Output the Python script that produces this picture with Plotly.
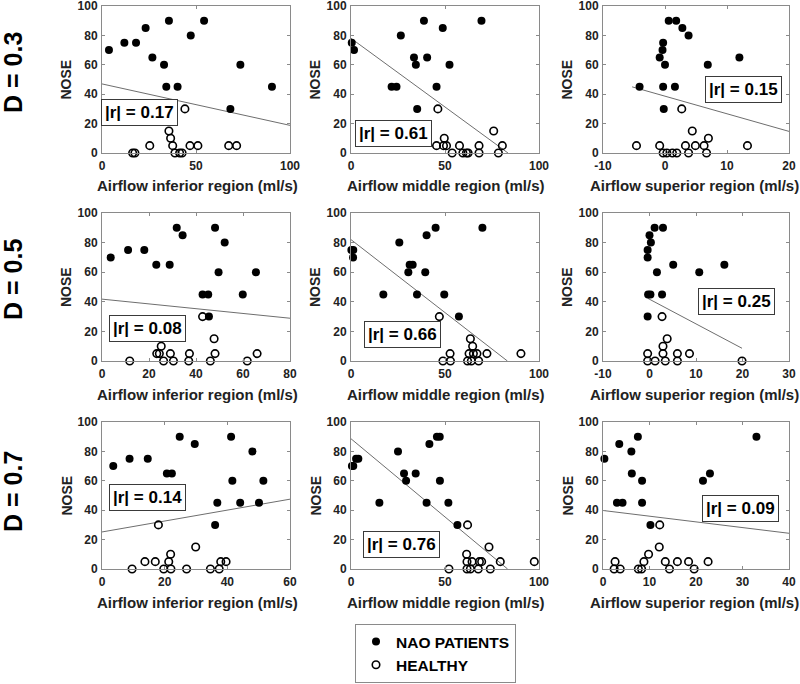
import plotly.graph_objects as go

# ---------------- data ----------------
d_labels = ["D = 0.3", "D = 0.5", "D = 0.7"]
region_titles = ["Airflow inferior region (ml/s)", "Airflow middle region (ml/s)", "Airflow superior region (ml/s)"]
r_values = ["0.17", "0.61", "0.15", "0.08", "0.66", "0.25", "0.14", "0.76", "0.09"]

# D = 0.3
d03_inf_nao_x = [3.7, 11.9, 18.1, 23.2, 26.8, 33, 35.6, 34.2, 40.2, 47.2, 54.3, 68.3, 73.6, 90.4]
d03_inf_nao_y = [70, 75, 75, 85, 65, 60, 90, 45, 45, 80, 90, 30, 60, 45]
d03_inf_hea_x = [44.1, 35.6, 36.5, 37.6, 38.8, 41.3, 42.6, 16.3, 17.5, 25.4, 46.8, 51, 67.4, 71.6]
d03_inf_hea_y = [30, 15, 10, 5, 0, 0, 0, 0, 0, 5, 5, 5, 5, 5]
d03_inf_fit_x = [0, 100]
d03_inf_fit_y = [47, 18.8]

d03_mid_nao_x = [0.4, 1.6, 21.6, 24.2, 26.5, 33.5, 34.5, 35.2, 38.8, 40.5, 45.5, 48.8, 52.4, 69.4]
d03_mid_nao_y = [75, 70, 45, 45, 80, 65, 60, 30, 90, 65, 45, 85, 60, 90]
d03_mid_hea_x = [46.2, 45.5, 49.2, 49.6, 50.8, 53.8, 57.7, 59.5, 61.4, 62.3, 68.1, 68.1, 75.9, 78.4, 80.5]
d03_mid_hea_y = [30, 5, 5, 10, 5, 0, 5, 0, 0, 0, 5, 0, 15, 0, 5]
d03_mid_fit_x = [0, 83.5]
d03_mid_fit_y = [78, 0]

d03_sup_nao_x = [-4.1, -0.86, -0.3, -0.4, 0, -0.3, -0.2, 0.6, 1.8, 2.8, 3.8, 1.6, 6.9, 12]
d03_sup_nao_y = [45, 65, 75, 70, 60, 45, 30, 90, 90, 85, 80, 45, 60, 65]
d03_sup_hea_x = [-4.6, -0.86, -0.3, 0.3, 1.2, 1.9, 2.7, 3.3, 3.8, 4.4, 4.9, 6.3, 6.7, 7.0, 13.3]
d03_sup_hea_y = [5, 5, 0, 0, 0, 0, 30, 5, 0, 15, 5, 5, 0, 10, 5]
d03_sup_fit_x = [-5.3, 20]
d03_sup_fit_y = [45, 14.7]

# D = 0.5
d05_inf_nao_x = [3.7, 11.1, 18, 23.1, 28.8, 31.8, 34.3, 42.8, 45.2, 45.5, 48.1, 49.6, 52.2, 59.9, 65.5]
d05_inf_nao_y = [70, 75, 75, 65, 65, 90, 85, 45, 45, 30, 90, 60, 80, 45, 60]
d05_inf_hea_x = [11.8, 23.3, 24.4, 25.2, 26.2, 29.1, 30.4, 36.9, 37.2, 42.8, 46.1, 47.7, 48.1, 61.8, 66]
d05_inf_hea_y = [0, 5, 5, 10, 0, 5, 0, 0, 5, 30, 0, 15, 5, 0, 5]
d05_inf_fit_x = [0, 80]
d05_inf_fit_y = [41.8, 28.9]

d05_mid_nao_x = [0.2, 1.2, 1.1, 17.2, 25.7, 30.5, 31.2, 32.8, 35.1, 39.5, 40.2, 45, 49.6, 57.4, 69.9]
d05_mid_nao_y = [75, 75, 70, 45, 80, 60, 65, 65, 45, 60, 85, 90, 45, 30, 90]
d05_mid_hea_x = [47, 48.9, 52.7, 52.9, 62, 62.8, 63.5, 64, 64.7, 65.1, 67, 67.9, 72.3, 90.4]
d05_mid_hea_y = [30, 0, 5, 0, 0, 5, 15, 0, 10, 5, 5, 0, 5, 5]
d05_mid_fit_x = [0, 83.2]
d05_mid_fit_y = [82, 0]

d05_sup_nao_x = [-0.4, -0.4, 0, 0.3, -0.3, 0.2, -0.4, 1.1, 2.9, 1.6, 2.7, 5.1, 10.7, 16.1]
d05_sup_nao_y = [75, 70, 85, 80, 45, 45, 30, 90, 90, 60, 45, 65, 60, 65]
d05_sup_hea_x = [-0.4, -0.4, 1.2, 2.7, 2.9, 2.9, 3.4, 3.8, 6, 6, 8.6, 19.9]
d05_sup_hea_y = [5, 0, 0, 30, 10, 5, 0, 15, 5, 0, 5, 0]
d05_sup_fit_x = [-0.4, 19.9]
d05_sup_fit_y = [42.4, 8.6]

# D = 0.7
d07_inf_nao_x = [3.6, 8.8, 14.6, 20.7, 22.3, 24.8, 29.6, 36.1, 36.8, 41.2, 41.6, 44.1, 48, 50.1, 51.5]
d07_inf_nao_y = [70, 75, 75, 65, 65, 90, 85, 30, 45, 90, 60, 45, 80, 45, 60]
d07_inf_hea_x = [9.6, 13.7, 17, 18, 19.7, 21.3, 21.9, 22, 27, 29.9, 34.6, 37.4, 37.9, 39.6]
d07_inf_hea_y = [0, 5, 5, 30, 0, 5, 10, 0, 0, 15, 0, 0, 5, 5]
d07_inf_fit_x = [0, 60]
d07_inf_fit_y = [25.2, 47.5]

d07_mid_nao_x = [0.5, 1.2, 2.7, 3.9, 15.1, 25, 28.2, 29.3, 34.4, 40.2, 41.7, 45.7, 47.2, 47.3, 51.8, 56.6]
d07_mid_nao_y = [70, 70, 75, 75, 45, 80, 65, 60, 65, 45, 85, 90, 90, 60, 45, 30]
d07_mid_hea_x = [52.1, 62, 61.5, 61.7, 61.7, 63.5, 64.4, 67.7, 68.3, 69.5, 73.4, 74.1, 79.4, 97.5]
d07_mid_hea_y = [0, 30, 10, 5, 0, 0, 5, 0, 5, 5, 15, 0, 5, 5]
d07_mid_fit_x = [0, 83.3]
d07_mid_fit_y = [88.6, 0]

d07_sup_nao_x = [-0.1, 0.3, 3, 3.5, 4.2, 6.1, 6.2, 7.5, 8.4, 8.4, 10.2, 21.5, 23, 33]
d07_sup_nao_y = [70, 75, 45, 85, 45, 80, 65, 90, 60, 45, 30, 60, 65, 90]
d07_sup_hea_x = [2.6, 2.4, 3.7, 7.6, 8.3, 8.8, 9.8, 12.2, 12.1, 13.4, 14.3, 16, 18.4, 19.6, 22.6]
d07_sup_hea_y = [5, 0, 0, 0, 0, 5, 10, 30, 15, 5, 0, 5, 5, 0, 5]
d07_sup_fit_x = [0, 40]
d07_sup_fit_y = [39.8, 24.3]

x_ranges = [[0, 100], [0, 100], [-10, 20],
            [0, 80], [0, 100], [-10, 30],
            [0, 60], [0, 100], [0, 40]]
x_tickvals = [[0, 50, 100], [0, 50, 100], [-10, 0, 10, 20],
              [0, 20, 40, 60, 80], [0, 50, 100], [-10, 0, 10, 20, 30],
              [0, 20, 40, 60], [0, 50, 100], [0, 10, 20, 30, 40]]
y_tickvals = [0, 20, 40, 60, 80, 100]

panels = [
    (d03_inf_nao_x, d03_inf_nao_y, d03_inf_hea_x, d03_inf_hea_y, d03_inf_fit_x, d03_inf_fit_y),
    (d03_mid_nao_x, d03_mid_nao_y, d03_mid_hea_x, d03_mid_hea_y, d03_mid_fit_x, d03_mid_fit_y),
    (d03_sup_nao_x, d03_sup_nao_y, d03_sup_hea_x, d03_sup_hea_y, d03_sup_fit_x, d03_sup_fit_y),
    (d05_inf_nao_x, d05_inf_nao_y, d05_inf_hea_x, d05_inf_hea_y, d05_inf_fit_x, d05_inf_fit_y),
    (d05_mid_nao_x, d05_mid_nao_y, d05_mid_hea_x, d05_mid_hea_y, d05_mid_fit_x, d05_mid_fit_y),
    (d05_sup_nao_x, d05_sup_nao_y, d05_sup_hea_x, d05_sup_hea_y, d05_sup_fit_x, d05_sup_fit_y),
    (d07_inf_nao_x, d07_inf_nao_y, d07_inf_hea_x, d07_inf_hea_y, d07_inf_fit_x, d07_inf_fit_y),
    (d07_mid_nao_x, d07_mid_nao_y, d07_mid_hea_x, d07_mid_hea_y, d07_mid_fit_x, d07_mid_fit_y),
    (d07_sup_nao_x, d07_sup_nao_y, d07_sup_hea_x, d07_sup_hea_y, d07_sup_fit_x, d07_sup_fit_y),
]

# ---------------- layout (pixel geometry) ----------------
W, H = 800, 684
col_px = [(102, 290), (351, 539), (603, 789)]
row_px = [(6, 153), (213, 361), (422, 569)]
xtitle_cx = [197, 446, 694]
# annotation box centres in data coordinates
box_pos = [(20, 27.6), (22.7, 13.6), (12.7, 43),
           (19.2, 22.3), (27.2, 17.6), (18.8, 40),
           (14.4, 48.9), (27.1, 17), (29.5, 41.4)]

FONT = "Liberation Sans, Arial, sans-serif"
AX_COLOR = "#8a8a8a"

fig = go.Figure()
layout = dict(
    width=W, height=H,
    margin=dict(l=0, r=0, t=0, b=0),
    paper_bgcolor="white", plot_bgcolor="white",
    showlegend=True,
    font=dict(family=FONT, color="black"),
)
annotations = []

for i, (nx, ny, hx, hy, fx, fy) in enumerate(panels):
    r, c = divmod(i, 3)
    k = "" if i == 0 else str(i + 1)
    xa, ya = "x" + k, "y" + k
    x0p, x1p = col_px[c]
    y0p, y1p = row_px[r]
    axis_common = dict(
        showline=True, linecolor=AX_COLOR, linewidth=1, mirror="ticks",
        ticks="inside", ticklen=3, tickcolor=AX_COLOR, showgrid=False,
        zeroline=False, automargin=False, ticklabeloverflow="allow",
        tickfont=dict(family=FONT, size=12, color="#222", weight="bold"),
    )
    layout["xaxis" + k] = dict(
        domain=[x0p / W, x1p / W], anchor=ya, range=x_ranges[i],
        tickmode="array", tickvals=x_tickvals[i], ticklabelstandoff=2,
        ticktext=[str(v) for v in x_tickvals[i]], **axis_common)
    layout["yaxis" + k] = dict(
        domain=[1 - y1p / H, 1 - y0p / H], anchor=xa, range=[0, 100],
        tickmode="array", tickvals=y_tickvals, ticklabelstandoff=1,
        ticktext=[str(v) for v in y_tickvals], **axis_common)

    fig.add_trace(go.Scatter(
        x=fx, y=fy, mode="lines", line=dict(color="#6e6e6e", width=1),
        xaxis=xa, yaxis=ya, showlegend=False, hoverinfo="skip"))
    fig.add_trace(go.Scatter(
        x=nx, y=ny, mode="markers", name="NAO PATIENTS",
        marker=dict(symbol="circle", size=8, color="black"),
        xaxis=xa, yaxis=ya, showlegend=(i == 0), cliponaxis=False))
    fig.add_trace(go.Scatter(
        x=hx, y=hy, mode="markers", name="HEALTHY",
        marker=dict(symbol="circle-open", size=7.5, color="black", line=dict(width=1.6)),
        xaxis=xa, yaxis=ya, showlegend=(i == 0), cliponaxis=False))

    # |r| box
    bx, by = box_pos[i]
    annotations.append(dict(
        x=bx, y=by, xref=xa, yref=ya, text="|r| = " + r_values[i],
        showarrow=False, font=dict(family=FONT, size=17, color="black", weight="bold"),
        bgcolor="white", bordercolor="#3a3a3a", borderwidth=1, borderpad=3,
        xanchor="center", yanchor="middle"))

    # x-axis title
    annotations.append(dict(
        x=xtitle_cx[c] / W, y=1 - (y1p + 33) / H, xref="paper", yref="paper",
        text=region_titles[c], showarrow=False,
        font=dict(family=FONT, size=15, color="#222", weight="bold"),
        xanchor="center", yanchor="middle"))
    # y-axis title
    annotations.append(dict(
        x=(x0p - 36) / W, y=1 - (y0p + y1p) / 2 / H, xref="paper", yref="paper",
        text="NOSE", textangle=-90, showarrow=False,
        font=dict(family=FONT, size=14, color="#222", weight="bold"),
        xanchor="center", yanchor="middle"))

row_label_y = [73, 280, 492]
for r in range(3):
    annotations.append(dict(
        x=13 / W, y=1 - row_label_y[r] / H, xref="paper", yref="paper",
        text=d_labels[r], textangle=-90, showarrow=False,
        font=dict(family=FONT, size=25, color="black", weight="bold"),
        xanchor="center", yanchor="middle"))

layout["annotations"] = annotations
layout["legend"] = dict(
    x=355 / W, y=1 - 683 / H, xanchor="left", yanchor="bottom",
    bordercolor="#8a8a8a", borderwidth=1, bgcolor="white",
    font=dict(family=FONT, size=15.5, color="black", weight="bold"),
    tracegroupgap=0, itemsizing="trace",
)
fig.update_layout(**layout)
fig.write_html("out.html", config={"displayModeBar": False},
               post_script="document.body.style.margin='0px';document.body.style.overflow='hidden';")
